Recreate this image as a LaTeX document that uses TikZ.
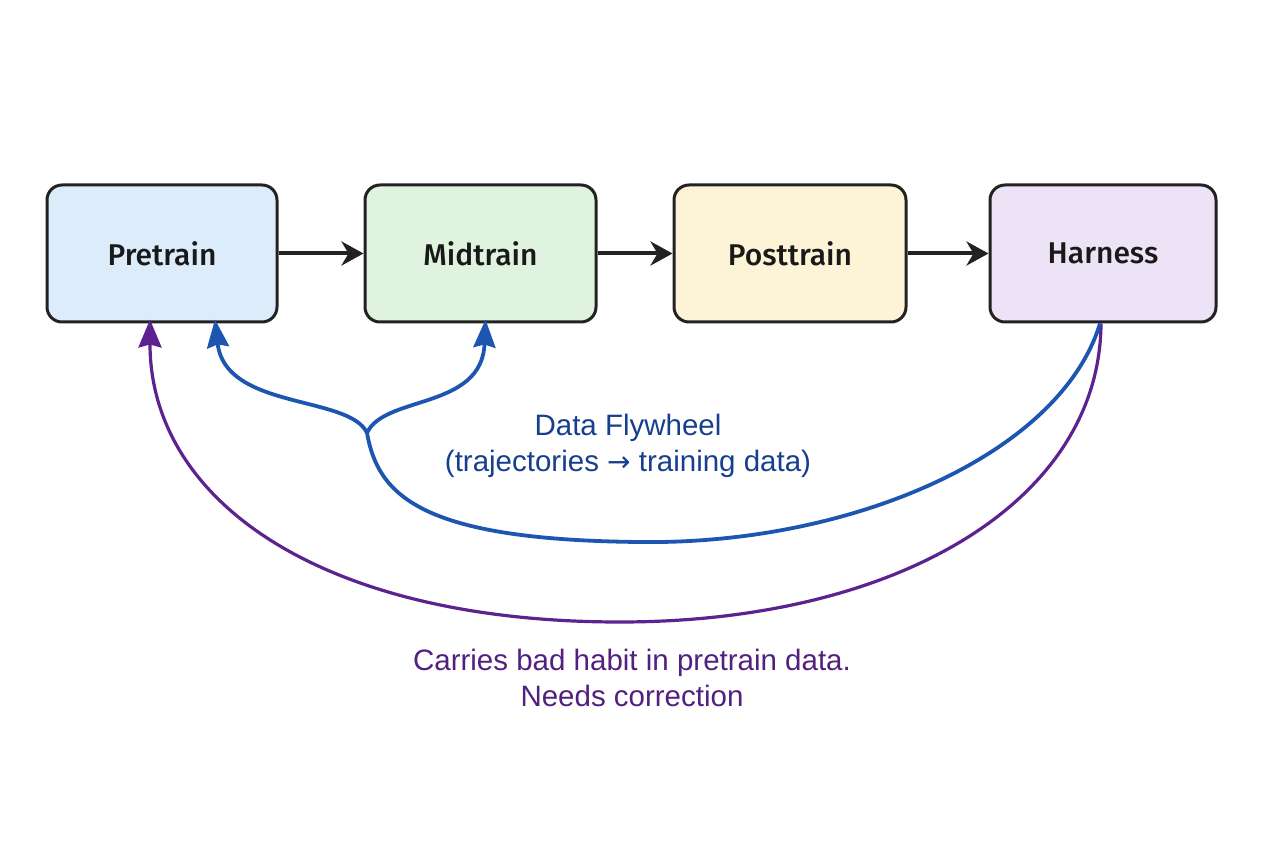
\documentclass[tikz,border=0pt]{standalone}
\usepackage{fontspec}
\setmainfont{Liberation Sans}
\newfontfamily\boxfont{Fira Sans Medium}
\newfontfamily\labelfont{Liberation Sans}
\newfontfamily\arrowfont{DejaVu Sans}
\usetikzlibrary{arrows.meta}
\definecolor{bluefill}{HTML}{DCECFA}
\definecolor{greenfill}{HTML}{DFF3DF}
\definecolor{yellowfill}{HTML}{FDF3D6}
\definecolor{purplefill}{HTML}{ECE4F6}
\definecolor{flyblue}{HTML}{1C56B0}
\definecolor{flytext}{HTML}{163F8E}
\definecolor{habit}{HTML}{5C2290}
\definecolor{habittext}{HTML}{52207F}
\definecolor{edge}{HTML}{222222}
\tikzset{
  stage/.style={draw=edge, line width=3pt, rounded corners=15pt, minimum height=137pt,
    font=\boxfont\fontsize{30}{36}\selectfont, text=black!90, inner sep=0pt},
  flow/.style={draw=edge, line width=4pt, -{Stealth[length=22pt,width=24pt,inset=7pt]}},
  fly/.style={draw=flyblue, line width=3.8pt},
  flyhead/.style={fly, -{Stealth[length=28pt,width=22pt,inset=3pt]}},
  habitline/.style={draw=habit, line width=3.2pt},
  label/.style={font=\labelfont\fontsize{29.5}{36}\selectfont, align=center}
}
\begin{document}
\begin{tikzpicture}[x=1pt,y=-1pt]
\useasboundingbox[fill=white] (0,0) rectangle (1264,842);
\node[stage, fill=bluefill, minimum width=230pt] (pre) at (162,253.5) {Pretrain};
\node[stage, fill=greenfill, minimum width=231pt] (mid) at (480.5,253.5) {Midtrain};
\node[stage, fill=yellowfill, minimum width=232pt] (post) at (790,253.5) {Posttrain};
\node[stage, fill=purplefill, minimum width=226pt] (har) at (1103,253.5) {Harness};
\draw[flow] (pre) -- (mid);
\draw[flow] (mid) -- (post);
\draw[flow] (post) -- (har);
% purple feedback
\draw[habitline, -{Stealth[length=28pt,width=23pt,inset=3pt]}] ([xshift=-2pt]har.south)
  .. controls (1100,500) and (900,622) .. (620,622)
  .. controls (320,622) and (150,500) .. ([xshift=-12pt,yshift=4pt]pre.south);
% blue flywheel
\coordinate (split) at (367,433);
\draw[fly] ([xshift=-3pt]har.south)
  .. controls (1060,455) and (850,545) .. (640,542)
  .. controls (420,540) and (378,495) .. (split);
\draw[flyhead] (split) .. controls (350,395) and (225,410) .. ([xshift=53pt,yshift=4pt]pre.south);
\draw[flyhead] (split) .. controls (384,395) and (482,410) .. ([xshift=5pt,yshift=4pt]mid.south);
\node[label, text=flytext] (flylabel) at (628,446) {Data Flywheel\\(trajectories {\arrowfont\fontsize{28}{36}\selectfont →} training data)};
\node[label, text=habittext] (habitlabel) at (632,678) {Carries bad habit in pretrain data.\\Needs correction};
\end{tikzpicture}
\end{document}
